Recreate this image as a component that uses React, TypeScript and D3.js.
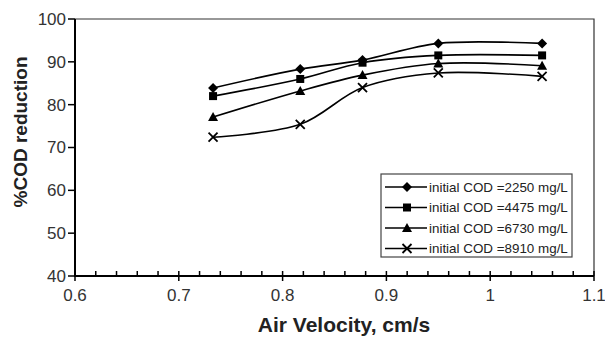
import React, { useEffect, useRef } from 'react';
import * as d3 from 'd3';

const velocities = [0.733, 0.817, 0.877, 0.95, 1.05];
const cod2250 = [83.9, 88.3, 90.4, 94.3, 94.3];
const cod4475 = [82.0, 86.0, 89.8, 91.5, 91.5];
const cod6730 = [77.1, 83.2, 86.9, 89.6, 89.1];
const cod8910 = [72.4, 75.4, 84.0, 87.4, 86.6];
const seriesLabels = [
  'initial COD =2250 mg/L',
  'initial COD =4475 mg/L',
  'initial COD =6730 mg/L',
  'initial COD =8910 mg/L',
];
const seriesMarkers = ['diamond', 'square', 'triangle', 'cross'];
const xTicks = [0.6, 0.7, 0.8, 0.9, 1, 1.1];
const yTicks = [40, 50, 60, 70, 80, 90, 100];

const W = 605;
const H = 337;

const App: React.FC = () => {
  const svgRef = useRef<SVGSVGElement>(null);

  useEffect(() => {
    if (!svgRef.current) return;
    const svg = d3.select(svgRef.current);
    svg.selectAll('*').remove();

    const margin = { top: 19, right: 11, bottom: 61, left: 75 };
    const innerW = W - margin.left - margin.right;
    const innerH = H - margin.top - margin.bottom;
    const font = 'Liberation Sans, Arial, sans-serif';

    const x = d3.scaleLinear().domain([0.6, 1.1]).range([0, innerW]);
    const y = d3.scaleLinear().domain([40, 100]).range([innerH, 0]);

    const g = svg.append('g').attr('transform', `translate(${margin.left},${margin.top})`);

    // frame (top and right)
    g.append('path')
      .attr('d', `M0,0H${innerW}V${innerH}`)
      .attr('fill', 'none')
      .attr('stroke', '#333')
      .attr('stroke-width', 1.2);

    // minor x ticks (inside)
    const minor = d3.range(0.62, 1.1, 0.02).filter(v => Math.abs(v * 10 - Math.round(v * 10)) > 0.01);
    g.selectAll('line.minor')
      .data(minor)
      .enter()
      .append('line')
      .attr('x1', d => x(d))
      .attr('x2', d => x(d))
      .attr('y1', innerH)
      .attr('y2', innerH - 5)
      .attr('stroke', '#000')
      .attr('stroke-width', 1.5);

    // major x ticks (cross)
    g.selectAll('line.majx')
      .data(xTicks)
      .enter()
      .append('line')
      .attr('x1', d => x(d))
      .attr('x2', d => x(d))
      .attr('y1', innerH - 5)
      .attr('y2', innerH + 5)
      .attr('stroke', '#000')
      .attr('stroke-width', 1.5);

    g.selectAll('text.xt')
      .data(xTicks)
      .enter()
      .append('text')
      .attr('x', d => x(d))
      .attr('y', innerH + 25)
      .attr('text-anchor', 'middle')
      .style('font-family', font)
      .style('font-size', '17px')
      .style('fill', '#333')
      .text(d => `${d}`);

    // y ticks (outside)
    g.selectAll('line.majy')
      .data(yTicks)
      .enter()
      .append('line')
      .attr('x1', -7)
      .attr('x2', 0)
      .attr('y1', d => y(d))
      .attr('y2', d => y(d))
      .attr('stroke', '#000')
      .attr('stroke-width', 1.5);

    g.selectAll('text.yt')
      .data(yTicks)
      .enter()
      .append('text')
      .attr('x', -9)
      .attr('y', d => y(d))
      .attr('dy', '0.35em')
      .attr('text-anchor', 'end')
      .style('font-family', font)
      .style('font-size', '17px')
      .style('fill', '#333')
      .text(d => `${d}`);

    // axes lines
    g.append('path')
      .attr('d', `M0,0V${innerH}H${innerW}`)
      .attr('fill', 'none')
      .attr('stroke', '#000')
      .attr('stroke-width', 2);

    // axis titles
    svg.append('text')
      .attr('x', 344)
      .attr('y', 332)
      .attr('text-anchor', 'middle')
      .style('font-family', font)
      .style('font-size', '21px')
      .style('font-weight', 'bold')
      .style('fill', '#222')
      .text('Air Velocity, cm/s');

    svg.append('text')
      .attr('transform', `translate(27,${132}) rotate(-90)`)
      .attr('text-anchor', 'middle')
      .style('font-family', font)
      .style('font-size', '19px')
      .style('font-weight', 'bold')
      .style('fill', '#222')
      .text('%COD reduction');

    const allSeries = [cod2250, cod4475, cod6730, cod8910];
    const line = d3.line<number>()
      .x((_, i) => x(velocities[i]))
      .y(d => y(d))
      .curve(d3.curveCatmullRom.alpha(0.5));

    const drawMarker = (sel: d3.Selection<SVGGElement, unknown, null, undefined>, type: string) => {
      if (type === 'diamond') {
        sel.append('path').attr('d', 'M0,-5L5,0L0,5L-5,0Z').attr('fill', '#000');
      } else if (type === 'square') {
        sel.append('rect').attr('x', -4).attr('y', -4).attr('width', 8).attr('height', 8).attr('fill', '#000');
      } else if (type === 'triangle') {
        sel.append('path').attr('d', 'M0,-5L5,4L-5,4Z').attr('fill', '#000');
      } else {
        sel.append('path').attr('d', 'M-4.5,-4.5L4.5,4.5M-4.5,4.5L4.5,-4.5')
          .attr('stroke', '#000').attr('stroke-width', 1.8).attr('fill', 'none');
      }
    };

    allSeries.forEach((vals, si) => {
      g.append('path')
        .attr('d', line(vals) || '')
        .attr('fill', 'none')
        .attr('stroke', '#000')
        .attr('stroke-width', 1.6);
      vals.forEach((v, i) => {
        const m = g.append('g').attr('transform', `translate(${x(velocities[i])},${y(v)})`);
        drawMarker(m, seriesMarkers[si]);
      });
    });

    // legend
    const legend = svg.append('g').attr('transform', 'translate(381,174)');
    legend.append('rect')
      .attr('width', 191)
      .attr('height', 83)
      .attr('fill', '#fff')
      .attr('stroke', '#444')
      .attr('stroke-width', 1.2);
    seriesLabels.forEach((lab, i) => {
      const ly = 13 + i * 20.5;
      legend.append('line')
        .attr('x1', 4).attr('x2', 46)
        .attr('y1', ly).attr('y2', ly)
        .attr('stroke', '#000').attr('stroke-width', 1.6);
      const m = legend.append('g').attr('transform', `translate(26,${ly})`);
      drawMarker(m, seriesMarkers[i]);
      legend.append('text')
        .attr('x', 48)
        .attr('y', ly)
        .attr('dy', '0.35em')
        .style('font-family', font)
        .style('font-size', '13.4px')
        .style('fill', '#222')
        .text(lab);
    });
  }, []);

  return (
    <svg
      ref={svgRef}
      width={W}
      height={H}
      style={{ position: 'absolute', left: 0, top: 0, background: '#fff' }}
    />
  );
};

export default App;
